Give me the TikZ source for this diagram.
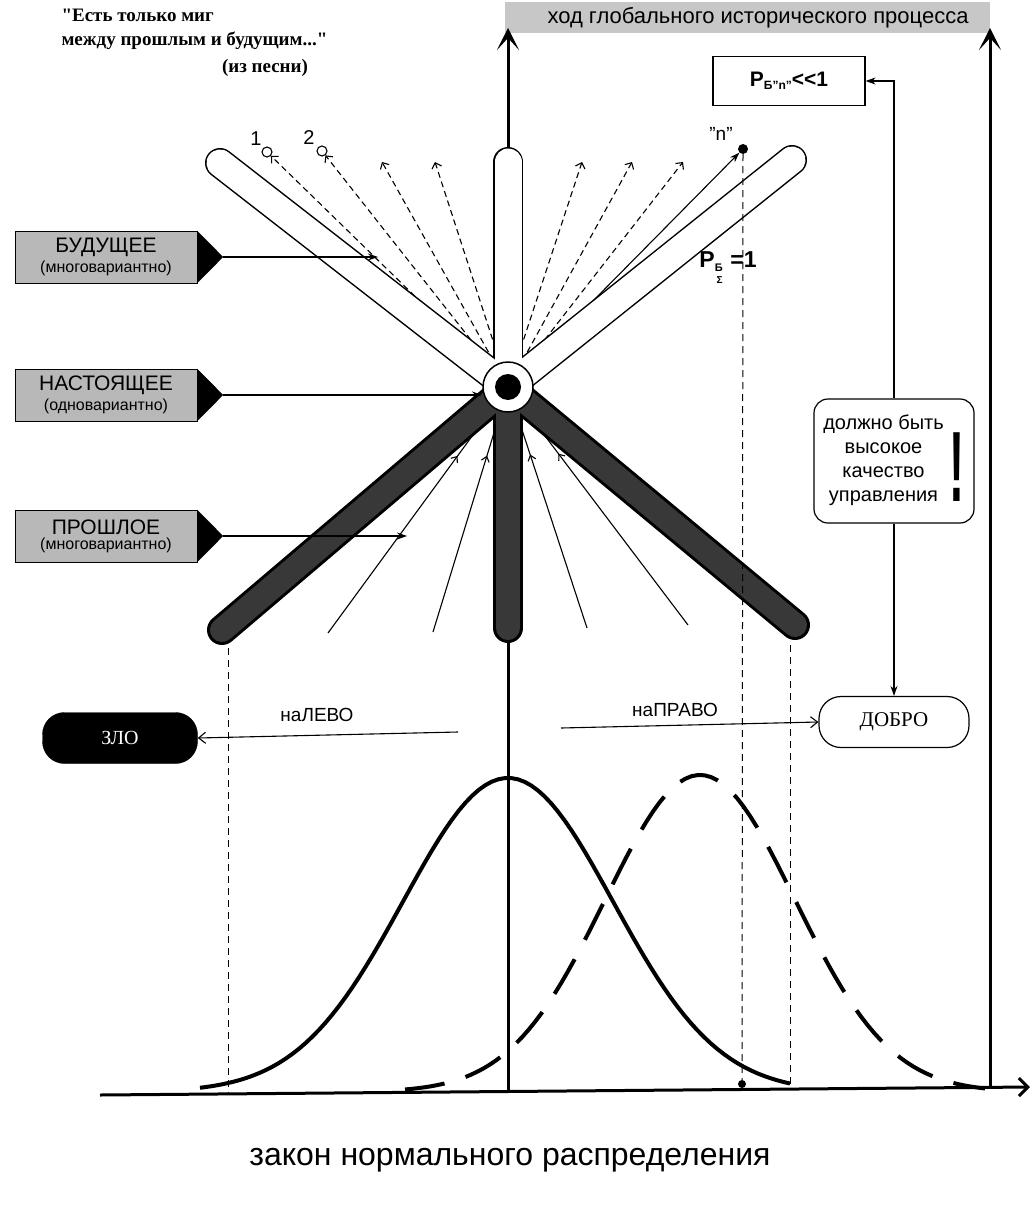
\documentclass[tikz,border=0pt]{standalone}
\usepackage{fontspec}
\setmainfont{Liberation Sans}
\newfontfamily\romfont{Liberation Serif}
\usetikzlibrary{arrows.meta,decorations.markings,calc,positioning}

\begin{document}
\begin{tikzpicture}[x=1pt,y=-1pt,
  axis/.style={line width=3pt,-{Stealth[length=22pt,width=22pt,inset=12pt]}},
  wire/.style={line width=1.1pt},
  ptr/.style={wire,-{Stealth[length=10pt,width=7pt]}},
  barb/.style={wire,-{Straight Barb[length=7pt,width=11pt]}},
  fanline/.style={line width=1.1pt,dash pattern=on 6pt off 4pt,-{Straight Barb[length=5pt,width=10pt]}},
  vdash/.style={line width=1pt,dash pattern=on 7pt off 5pt},
  inflow/.style={wire,postaction={decorate},decoration={markings,mark=at position .72 with {\arrow{Straight Barb[length=5pt,width=8pt]}}}},
  tag/.style={draw,fill=black!28,minimum width=182pt,minimum height=52pt,inner sep=1pt,align=center},
  bell/.style={line width=4pt,samples=90},
  blob/.style={circle,fill,inner sep=0pt,minimum size=#1},
]
\useasboundingbox (0,0) rectangle (1034,1207);
\coordinate (O) at (508,387);

\fill[black!22] (505,2) rectangle (990,33);
\node[font=\fontsize{22}{24}\selectfont] (proc) at (758,18) {ход глобального исторического процесса};
\node[anchor=north west,align=left,font=\romfont\bfseries\fontsize{19}{24}\selectfont] (quote) at (58,6) {"Есть только миг\\между прошлым и будущим..."};
\node[font=\romfont\bfseries\fontsize{19}{20}\selectfont] (song) at (265,68) {(из песни)};

\coordinate (xa) at (100,1095);
\coordinate (xb) at (1030,1087);
\coordinate (ca) at (508,1092);
\coordinate (cb) at (508,28);
\coordinate (ra) at (990,1088);
\coordinate (rb) at (990,28);
\draw[line width=3pt,-{Straight Barb[length=9pt,width=18pt]}] (xa) -- (xb);
\draw[axis] (ca) -- (cb);
\draw[axis] (ra) -- (rb);

\foreach \x/\n in {382/f3,435/f4,582/f5,632/f6,683/f7}{
  \coordinate (\n) at (\x,162);
  \draw[fanline] (O) -- (\n);
}
\node[circle,draw,wire,inner sep=0pt,minimum size=10pt] (v1) at (267,152) {};
\node[circle,draw,wire,inner sep=0pt,minimum size=10pt] (v2) at (322,151) {};
\node[font=\fontsize{20}{20}\selectfont] at (256,139) {1};
\node[font=\fontsize{20}{20}\selectfont] at (309,138) {2};
\draw[fanline] (O) -- (v1);
\draw[fanline] (O) -- (v2);
\node[blob=10pt] (ndot) at (743,149) {};
\node[font=\fontsize{19}{20}\selectfont] (nlab) at (721,134) {"n"};
\draw[ptr] (O) -- (ndot);

\foreach \x/\y/\n in {328/633/g1,433/632/g2,587/628/g3,688/625/g4}{
  \coordinate (\n) at (\x,\y);
  \draw[inflow] (\n) -- (O);
}

\coordinate (ul) at (220,163);
\coordinate (um) at (508,162);
\coordinate (ur) at (792,160);
\coordinate (ll) at (222,630);
\coordinate (lm) at (508,628);
\coordinate (lr) at (795,625);
\foreach \e in {ul,um,ur} \draw[line width=30pt,line cap=round] (O) -- (\e);
\foreach \e in {ul,um,ur} \draw[line width=27pt,white,line cap=round] (O) -- (\e);
\foreach \e in {ll,lm,lr} \draw[line width=30pt,line cap=round] (O) -- (\e);
\foreach \e in {ll,lm,lr} \draw[line width=24pt,black!78,line cap=round] (O) -- (\e);

\node[circle,draw,fill=white,line width=1.5pt,minimum size=50pt,inner sep=0pt] (centre) at (O) {};
\node[blob=26pt] (core) at (O) {};

\foreach \n/\y/\w/\s/\tx in {fut/257/БУДУЩЕЕ/многовариантно/378,pres/395/НАСТОЯЩЕЕ/одновариантно/482,past/536/ПРОШЛОЕ/многовариантно/407}{
  \node[tag] (\n) at (106,\y) {{\fontsize{21}{22}\selectfont \w}\\[3pt]{\fontsize{16}{17}\selectfont(\s)}};
  \coordinate (\n tip) at ($(\n.east)+(26,0)$);
  \fill (\n.north east) -- (\n tip) -- (\n.south east) -- cycle;
  \coordinate (\n end) at (\tx,\y);
  \draw[ptr] (\n tip) -- (\n end);
}

\node[blob=8pt] (bdot) at (742,1084) {};
\draw[vdash] (ndot) -- (bdot);
\coordinate (dl) at (228,648);
\coordinate (dlb) at (228,1094);
\coordinate (dr) at (790,645);
\coordinate (drb) at (790,1088);
\draw[vdash] (dl) -- (dlb);
\draw[vdash] (dr) -- (drb);

\node[font=\bfseries\fontsize{23}{24}\selectfont] (psum) at (728,268) {P\raisebox{-4pt}{\fontsize{11}{11}\selectfont Б}\llap{\raisebox{-16pt}{\fontsize{10}{10}\selectfont Σ}}\,\,=1};

\node[draw,line width=1.2pt,minimum width=152pt,minimum height=49pt,font=\bfseries\fontsize{21}{22}\selectfont] (pbox) at (789,81) {P\raisebox{-3pt}{\fontsize{12}{12}\selectfont Б"n"}<\kern0pt<1};
\node[draw,line width=1.2pt,rounded corners=14pt,minimum width=160pt,minimum height=124pt,inner sep=2pt,font=\fontsize{20}{24}\selectfont] (quality) at (894,461) {\begin{tabular}[b]{@{}c@{}}должно быть\\высокое\\качество\\управления\end{tabular}\hspace{6pt}{\fontsize{100}{100}\selectfont\bfseries\scalebox{0.45}[1]{!}}};
\node[draw,line width=1.2pt,rounded corners=22pt,minimum width=150pt,minimum height=51pt,font=\romfont\fontsize{21}{22}\selectfont] (dobro) at (894,722) {ДОБРО};
\node[draw,fill=black,text=white,rounded corners=22pt,minimum width=155pt,minimum height=51pt,font=\romfont\fontsize{20}{22}\selectfont] (zlo) at (120,738) {ЗЛО};
\draw[ptr] (quality.north) |- (pbox.east);
\draw[ptr] (quality.south) -- (dobro.north);

\node[font=\fontsize{19}{20}\selectfont] (left) at (317,715) {наЛЕВО};
\node[font=\fontsize{19}{20}\selectfont] (right) at (675,710) {наПРАВО};
\coordinate (lgo) at (458,732);
\coordinate (rgo) at (561,728);
\draw[barb] (lgo) -- (zlo.east);
\draw[barb] (rgo) -- (dobro.west);

\draw[bell,domain=200:790] plot (\x,{1092-314*exp(-0.5*((\x-508)/105)^2)});
\draw[bell,dash pattern=on 40pt off 22pt,domain=405:985] plot (\x,{1092-317*exp(-0.5*((\x-700)/95)^2)});

\node[font=\fontsize{32}{34}\selectfont] (law) at (510,1160) {закон нормального распределения};
\end{tikzpicture}
\end{document}
